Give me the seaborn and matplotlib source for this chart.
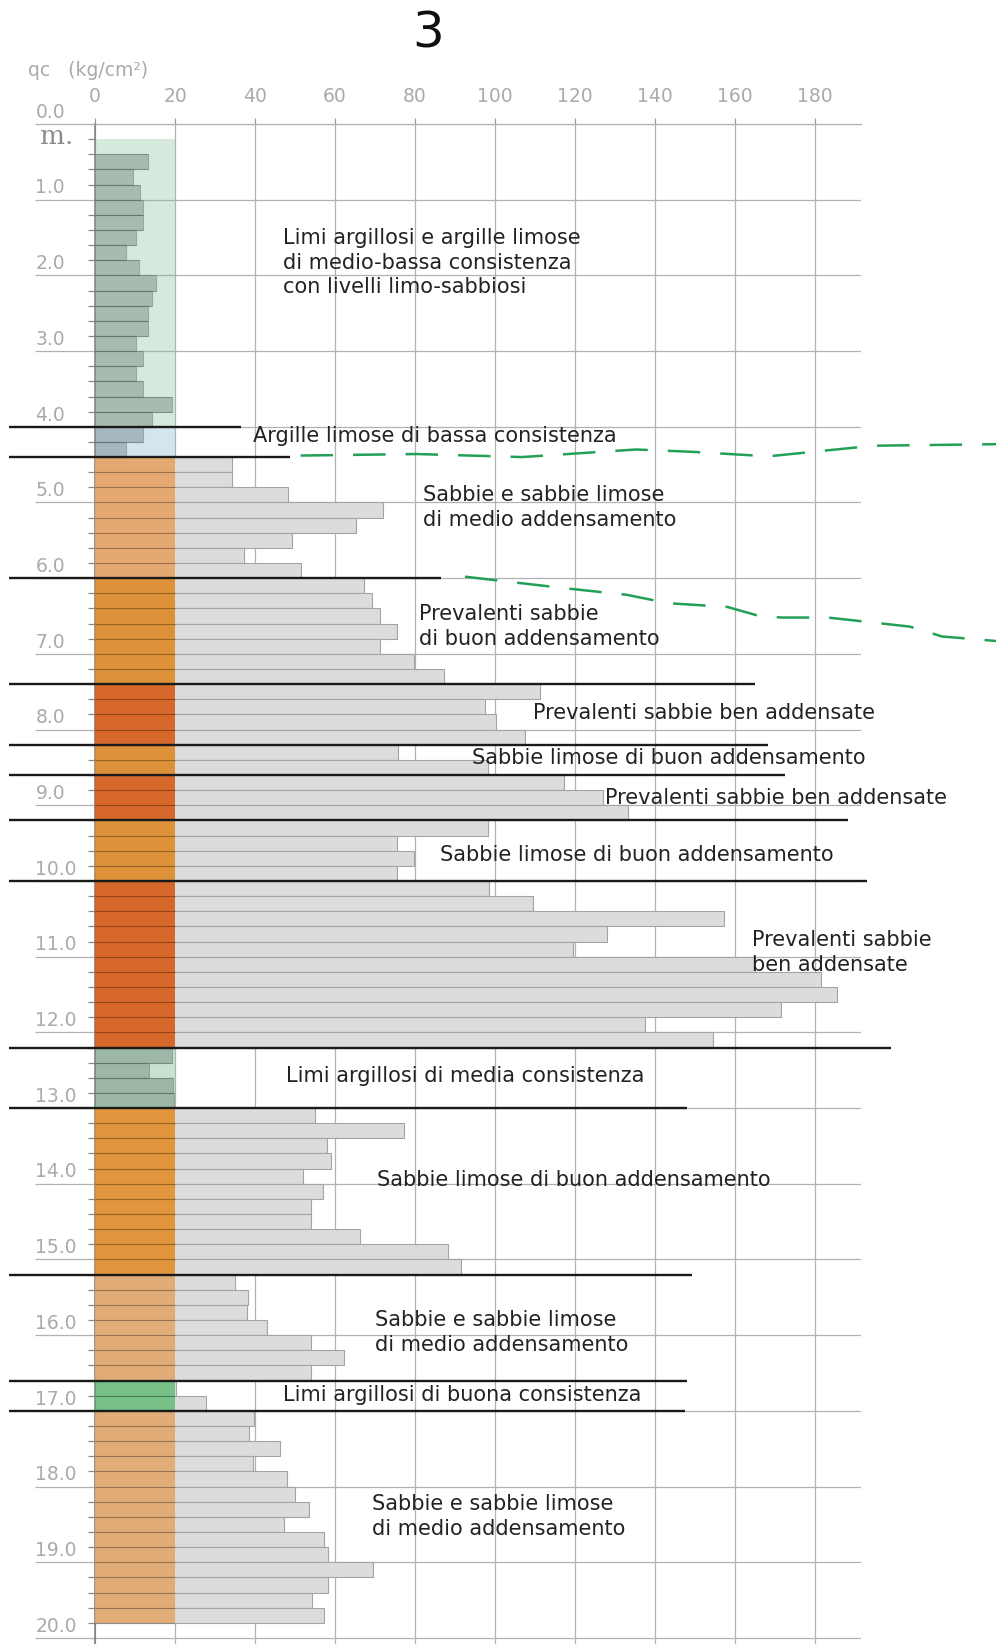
import numpy as np
import pandas as pd
import matplotlib
matplotlib.use("Agg")
import matplotlib.pyplot as plt
import seaborn as sns

plt.rcParams["font.family"] = ["DejaVu Sans"]

# ---- CPT readings: top of each 20 cm step (m) and cone resistance qc (kg/cm2)
depth_top = [
    0.4, 0.6, 0.8, 1.0, 1.2, 1.4, 1.6, 1.8, 2.0, 2.2,
    2.4, 2.6, 2.8, 3.0, 3.2, 3.4, 3.6, 3.8, 4.0, 4.2,
    4.4, 4.6, 4.8, 5.0, 5.2, 5.4, 5.6, 5.8, 6.0, 6.2,
    6.4, 6.6, 6.8, 7.0, 7.2, 7.4, 7.6, 7.8, 8.0, 8.2,
    8.4, 8.6, 8.8, 9.0, 9.2, 9.4, 9.6, 9.8, 10.0, 10.2,
    10.4, 10.6, 10.8, 11.0, 11.2, 11.4, 11.6, 11.8, 12.0, 12.2,
    12.4, 12.6, 12.8, 13.0, 13.2, 13.4, 13.6, 13.8, 14.0, 14.2,
    14.4, 14.6, 14.8, 15.0, 15.2, 15.4, 15.6, 15.8, 16.0, 16.2,
    16.4, 16.6, 16.8, 17.0, 17.2, 17.4, 17.6, 17.8, 18.0, 18.2,
    18.4, 18.6, 18.8, 19.0, 19.2, 19.4, 19.6,
]
qc = [
    13.3, 9.5, 11.2, 11.9, 11.9, 10.2, 7.8, 11.1, 15.2, 14.2,
    13.3, 13.3, 10.2, 11.9, 10.2, 11.9, 19.2, 14.2, 11.9, 7.8,
    34.2, 34.2, 48.2, 72.1, 65.2, 49.2, 37.3, 51.4, 67.2, 69.3,
    71.2, 75.4, 71.2, 79.8, 87.3, 111.3, 97.6, 100.2, 107.4, 75.8,
    98.2, 117.2, 127.0, 133.2, 98.2, 75.4, 79.7, 75.4, 98.6, 109.4,
    157.3, 128.0, 119.4, 165.0, 181.6, 185.6, 171.5, 137.5, 154.5, 19.2,
    13.5, 19.6, 19.8, 55.1, 77.3, 58.0, 59.0, 52.0, 57.0, 54.1,
    54.1, 66.3, 88.3, 91.5, 35.0, 38.2, 37.9, 43.1, 54.1, 62.3,
    54.1, 20.2, 27.8, 39.8, 38.4, 46.2, 39.5, 47.9, 50.0, 53.4,
    47.2, 57.2, 58.2, 69.5, 58.2, 54.3, 57.2,
]
step = 0.2

# ---- stratigraphic column
layer_top = [0.2, 4.0, 4.4, 6.0, 7.4, 8.2, 8.6, 9.2, 10.0, 12.2, 13.0, 15.2, 16.6, 17.0]
layer_bottom = [4.0, 4.4, 6.0, 7.4, 8.2, 8.6, 9.2, 10.0, 12.2, 13.0, 15.2, 16.6, 17.0, 19.8]
layer_kind = ["clay", "clay", "sand", "sand", "sand", "sand", "sand", "sand",
              "sand", "clay", "sand", "sand", "silt", "sand"]
layer_color = ["#76b991", "#73acc6", "#e5a464", "#de8a28", "#d75b18", "#de8a28",
               "#d75b18", "#de8a28", "#d75b18", "#5fae7a", "#e28e2a", "#e3a76d",
               "#4cb664", "#e3a76d"]
layer_alpha = [0.30, 0.30, 0.90, 0.90, 0.90, 0.90, 0.90, 0.90, 0.90, 0.35,
               0.90, 0.90, 0.70, 0.90]

# layer boundaries drawn as black lines (depth, right end in qc units)
boundary_depth = [4.0, 4.4, 6.0, 7.4, 8.2, 8.6, 9.2, 10.0, 12.2, 13.0, 15.2, 16.6, 17.0]
boundary_end = [36.5, 48.75, 86.5, 165.0, 168.2, 172.4, 188.2, 193.0, 199.0,
                148.0, 149.2, 147.9, 147.6]
boundary_start = -21.4

# layer descriptions
label_text = [
    "Limi argillosi e argille limose\ndi medio-bassa consistenza\ncon livelli limo-sabbiosi",
    "Argille limose di bassa consistenza",
    "Sabbie e sabbie limose\ndi medio addensamento",
    "Prevalenti sabbie\ndi buon addensamento",
    "Prevalenti sabbie ben addensate",
    "Sabbie limose di buon addensamento",
    "Prevalenti sabbie ben addensate",
    "Sabbie limose di buon addensamento",
    "Prevalenti sabbie\nben addensate",
    "Limi argillosi di media consistenza",
    "Sabbie limose di buon addensamento",
    "Sabbie e sabbie limose\ndi medio addensamento",
    "Limi argillosi di buona consistenza",
    "Sabbie e sabbie limose\ndi medio addensamento",
]
label_x = [47.0, 39.4, 82.1, 81.0, 109.4, 94.2, 127.4, 86.3, 164.2, 47.8, 70.6, 70.0, 47.0, 69.3]
label_y = [1.83, 4.12, 5.07, 6.64, 7.78, 8.37, 8.91, 9.66, 10.95, 12.58, 13.95, 15.96, 16.79, 18.40]

# green dashed lines (qc units, depth m)
wl1_x = [51.4, 80.5, 106.75, 135.25, 149.0, 168.4, 194.6, 225.25]
wl1_d = [4.38, 4.36, 4.40, 4.30, 4.33, 4.39, 4.25, 4.23]
wl2_x = [92.5, 117.0, 133.0, 143.25, 158.1, 166.1, 171.75, 183.25, 203.75, 211.75, 225.25]
wl2_d = [5.98, 6.13, 6.22, 6.33, 6.38, 6.50, 6.52, 6.52, 6.64, 6.77, 6.83]

x_ticks = [0, 20, 40, 60, 80, 100, 120, 140, 160, 180]
depth_ticks = [float(v) for v in range(0, 21)]

# ---------------------------------------------------------------------------
W, H = 996, 1644
fig = plt.figure(figsize=(W / 100, H / 100), dpi=100)
ax = fig.add_axes([95 / W, 0, (861 - 95) / W, (H - 124) / H])

depth_top_arr = np.array(depth_top)
qc_arr = np.array(qc)


def kind_at(d):
    for t, b, k in zip(layer_top, layer_bottom, layer_kind):
        if t <= d + 1e-6 < b:
            return k
    return "sand"


df = pd.DataFrame({
    "depth": depth_top_arr + step / 2,
    "qc": qc_arr,
    "kind": [kind_at(d) for d in depth_top],
})

sns.barplot(data=df, x="qc", y="depth", hue="kind", orient="y", native_scale=True,
            palette={"clay": "#bdbdbd", "silt": "#dcdcde", "sand": "#dcdcde"},
            width=1.0, dodge=False, edgecolor="#a4a4a4", linewidth=0.8,
            errorbar=None, legend=False, ax=ax)

# coloured lithology column over the first 20 units
for t, b, c, a in zip(layer_top, layer_bottom, layer_color, layer_alpha):
    ax.fill_betweenx([t, b], 0, 20, color=c, alpha=a, lw=0, zorder=3)
# bar edges seen through the column
edge_len = np.minimum(qc_arr, 20)
ax.hlines(depth_top_arr, 0, edge_len, color="black", alpha=0.16, lw=0.8, zorder=4)
ax.hlines(depth_top_arr + step, 0, edge_len, color="black", alpha=0.16, lw=0.8, zorder=4)

# boundaries
ax.hlines(boundary_depth, boundary_start, boundary_end, color="#1a1a1a", lw=1.7,
          zorder=6, clip_on=False)

# dashed lines
for xs, ds in ((wl1_x, wl1_d), (wl2_x, wl2_d)):
    ax.plot(xs, ds, color="#22a055", lw=1.8, ls=(0, (13, 8)), zorder=6,
            clip_on=False, dash_capstyle="butt")

# descriptions
for s, x, y in zip(label_text, label_x, label_y):
    ax.text(x, y, s, fontsize=15, color="#222222", ha="left", va="center",
            linespacing=1.3, zorder=7)

# axes styling
ax.set_xlim(0, 191.5)
ax.set_ylim(20.08, 0)
ax.set_xlabel("")
ax.set_ylabel("")
ax.set_axisbelow(True)
ax.grid(True, which="major", color="#b2b2b2", lw=0.9)

ax.xaxis.tick_top()
ax.set_xticks(x_ticks)
ax.set_xticklabels([str(v) for v in x_ticks])
ax.tick_params(axis="x", which="major", top=True, bottom=False, direction="out",
               length=4.5, width=0.9, color="#999999", pad=8.5,
               labelsize=13.5, labelcolor="#aaaaaa")

ax.set_yticks(depth_ticks)
ax.set_yticklabels([])
ax.set_yticks(np.arange(0, 20.01, step), minor=True)
ax.tick_params(axis="y", which="major", left=True, direction="out", length=43,
               width=0.9, color="#b2b2b2")
ax.tick_params(axis="y", which="minor", left=True, direction="out", length=5,
               width=0.9, color="#888888")

for d in depth_ticks:
    ax.text(-14.9, d - 0.03, f"{d:.1f}", fontsize=13.5, color="#aaaaaa",
            ha="left", va="bottom", clip_on=False)

ax.spines["right"].set_visible(False)
ax.spines["bottom"].set_visible(False)
ax.spines["top"].set_color("#b2b2b2")
ax.spines["top"].set_linewidth(0.9)
ax.spines["left"].set_color("#7a7a7a")
ax.spines["left"].set_linewidth(1.1)

ax.text(-13.8, 0.17, "m.", fontsize=19, family="DejaVu Serif", color="#8a8a8a",
        ha="left", va="center", clip_on=False)
fig.text(28 / W, 1 - 70 / H, "qc   (kg/cm²)", fontsize=13.5, color="#aaaaaa",
         ha="left", va="center")
fig.text(428 / W, 1 - 34 / H, "3", fontsize=36, color="#111111",
         ha="center", va="center")

fig.savefig("out.png", dpi=100)
